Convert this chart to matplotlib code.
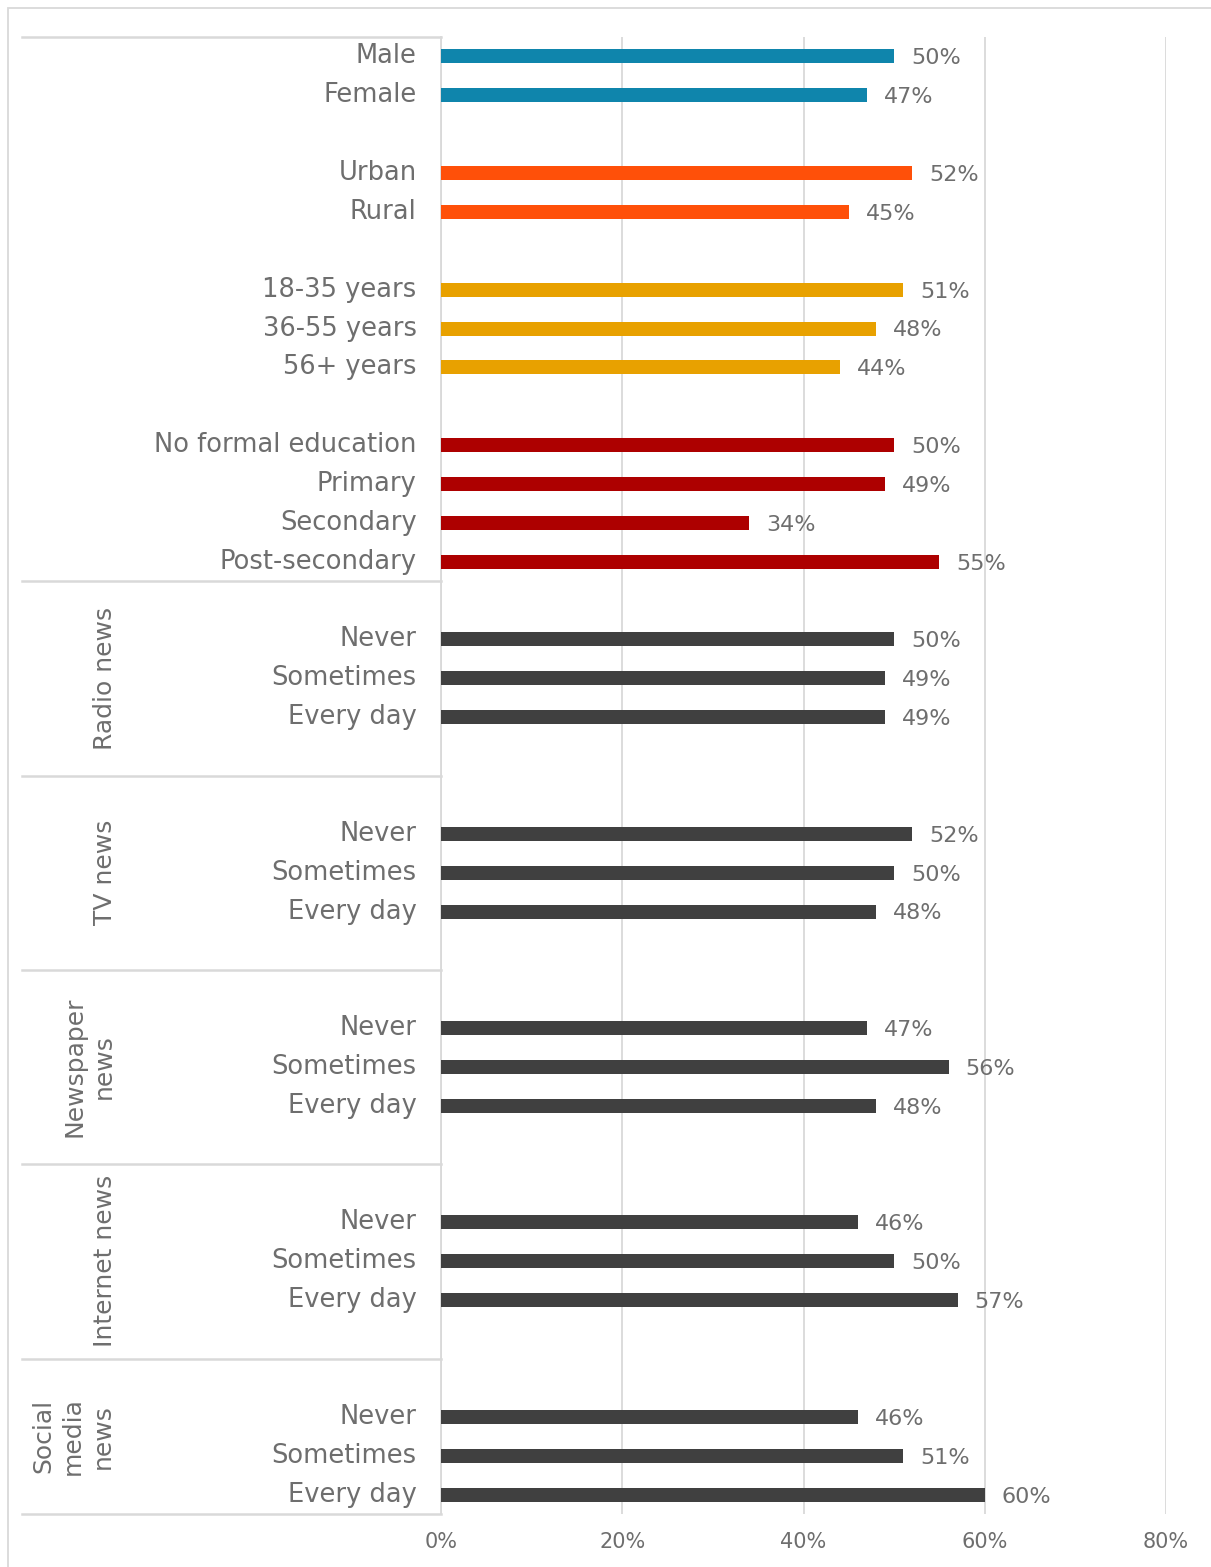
import matplotlib
matplotlib.use("Agg")
import matplotlib.pyplot as plt
from matplotlib.patches import Rectangle
import matplotlib.transforms as mtransforms

plt.rcParams['font.family'] = ['DejaVu Sans']

# ---- data ----
gender_labels = ["Male", "Female"]
gender_values = [50, 47]
location_labels = ["Urban", "Rural"]
location_values = [52, 45]
age_labels = ["18-35 years", "36-55 years", "56+ years"]
age_values = [51, 48, 44]
edu_labels = ["No formal education", "Primary", "Secondary", "Post-secondary"]
edu_values = [50, 49, 34, 55]
freq_labels = ["Never", "Sometimes", "Every day"]
radio_values = [50, 49, 49]
tv_values = [52, 50, 48]
newspaper_values = [47, 56, 48]
internet_values = [46, 50, 57]
social_values = [46, 51, 60]
media_groups = ["Radio news", "TV news", "Newspaper\nnews", "Internet news", "Social\nmedia\nnews"]
x_ticks = [0, 20, 40, 60, 80]

# ---- styles ----
c_gender = "#0F85AC"
c_loc = "#FF5009"
c_age = "#E8A100"
c_edu = "#AD0000"
c_media = "#404040"
text_c = "#6E6E6E"
grid_c = "#D9D9D9"

# build rows (with blank spacer rows)
rows = []  # (label, value, color)
def add(labels, values, color, blank_after=True):
    for l, v in zip(labels, values):
        rows.append((l, v, color))
    if blank_after:
        rows.append(("", None, None))

add(gender_labels, gender_values, c_gender)
add(location_labels, location_values, c_loc)
add(age_labels, age_values, c_age)
add(edu_labels, edu_values, c_edu, blank_after=False)
media_vals = [radio_values, tv_values, newspaper_values, internet_values, social_values]
boundaries = [-0.5, len(rows) - 0.5]
for i, vals in enumerate(media_vals):
    rows.append(("", None, None))
    add(freq_labels, vals, c_media, blank_after=(i < len(media_vals) - 1))
    boundaries.append(len(rows) - 0.5)
group_centers = [(boundaries[k] + boundaries[k + 1]) / 2 for k in range(1, len(boundaries) - 1)]

W, H = 1211, 1567
fig = plt.figure(figsize=(W / 100, H / 100), dpi=100)
x0, x1 = 441, 1166
y0, y1 = 37, 1514
ax = fig.add_axes([x0 / W, 1 - y1 / H, (x1 - x0) / W, (y1 - y0) / H])

n = len(rows)
for i, (lab, v, col) in enumerate(rows):
    if v is None:
        continue
    ax.barh(i, v / 100, height=0.36, color=col, zorder=3)
    ax.text(v / 100 + 0.019, i + 0.05, f"{v}%", va="center", ha="left",
            fontsize=16, color=text_c)
    ax.text(-0.027, i, lab, va="center", ha="right", fontsize=18.5,
            color=text_c, transform=ax.transData)

ax.set_xlim(0, 0.8)
ax.set_ylim(n - 0.5, -0.5)
ax.set_xticks([t / 100 for t in x_ticks])
ax.set_xticklabels([f"{t}%" for t in x_ticks], fontsize=15, color=text_c)
ax.set_yticks([])
ax.tick_params(axis="x", length=0, pad=13)
ax.grid(axis="x", color=grid_c, lw=1.3, zorder=0)
for s in ["top", "right", "bottom"]:
    ax.spines[s].set_visible(False)
ax.spines["left"].set_color(grid_c)
ax.spines["left"].set_linewidth(1.3)

# separators on the left
trans = mtransforms.blended_transform_factory(ax.transAxes, ax.transData)
xl = (22 - x0) / (x1 - x0)
for b in boundaries:
    ax.plot([xl, 0], [b, b], color=grid_c, lw=1.8, transform=trans, clip_on=False)

# group labels
gx = [105, 105, 89, 105, 73]
for name, c, gxx in zip(media_groups, group_centers, gx):
    ax.text((gxx - x0) / (x1 - x0), c, name, rotation=90, ha="center", va="center",
            fontsize=18, color=text_c, transform=trans, linespacing=1.28)

# outer frame
fig.patches.append(Rectangle((8 / W, -0.01), 1.1, 1 - 8 / H + 0.01, transform=fig.transFigure,
                             fill=False, edgecolor=grid_c, lw=1.3))

fig.savefig("out.png", dpi=100)
